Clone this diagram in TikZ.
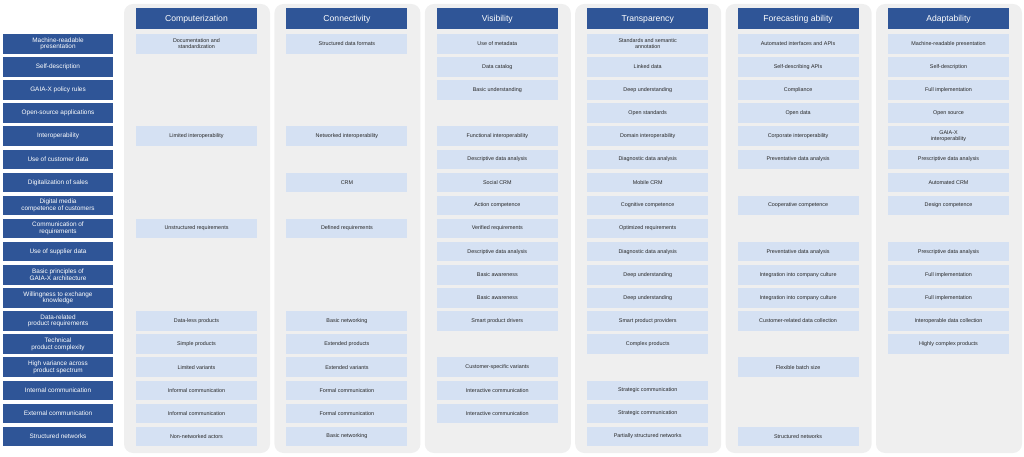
\documentclass[tikz,border=0pt]{standalone}
\usepackage{fontspec}
\setmainfont{Liberation Sans}
\usetikzlibrary{positioning}
\definecolor{darkblue}{HTML}{2F5597}
\definecolor{lightblue}{HTML}{D5E1F3}
\definecolor{panelgray}{HTML}{EFEFEF}
\begin{document}
\begin{tikzpicture}[x=1pt, y=-1pt,
  label/.style={fill=darkblue, text=white, minimum width=110pt, minimum height=19.5pt,
    inner sep=1pt, align=center, font=\fontsize{6.4}{6.6}\selectfont},
  header/.style={fill=darkblue, text=white, minimum width=121pt, minimum height=21pt,
    inner sep=1pt, font=\fontsize{8.6}{9}\selectfont},
  cell/.style={fill=lightblue, text=black!85, minimum width=121pt, minimum height=19.5pt,
    inner sep=1pt, align=center, font=\fontsize{5.4}{5.8}\selectfont},
  panel/.style={fill=panelgray, rounded corners=9pt}]
  \useasboundingbox (0,0) rectangle (1024,457);

  % gray panels and column headers
  \foreach \c/\name in {1/Computerization, 2/Connectivity, 3/Visibility,
      4/Transparency, 5/Forecasting ability, 6/Adaptability} {
    \fill[panel] ({124+150.4*(\c-1)},4) rectangle ++(146,449);
    \node[header] (h\c) at ({196.5+150.4*(\c-1)},19) {\name};
  }

  % row labels
  \foreach \r/\txt in {1/{Machine-readable\\presentation}, 2/Self-description,
      3/GAIA-X policy rules, 4/Open-source applications, 5/Interoperability,
      6/Use of customer data, 7/Digitalization of sales,
      8/{Digital media\\competence of customers}, 9/{Communication of\\requirements},
      10/Use of supplier data, 11/{Basic principles of\\GAIA-X architecture},
      12/{Willingness to exchange\\knowledge}, 13/{Data-related\\product requirements},
      14/{Technical\\product complexity}, 15/{High variance across\\product spectrum},
      16/Internal communication, 17/External communication, 18/Structured networks}
    \node[label] (l\r) at (58,{43.8+23.1*(\r-1)}) {\txt};

  % Computerization
  \foreach \r/\txt in {1/{Documentation and\\standardization}, 5/Limited interoperability,
      9/Unstructured requirements, 13/Data-less products, 14/Simple products,
      15/Limited variants, 16/Informal communication, 17/Informal communication,
      18/Non-networked actors}
    \node[cell] (c1-\r) at (196.5,{43.8+23.1*(\r-1)}) {\txt};

  % Connectivity
  \foreach \r/\txt in {1/Structured data formats, 5/Networked interoperability, 7/CRM,
      9/Defined requirements, 13/Basic networking, 14/Extended products,
      15/Extended variants, 16/Formal communication, 17/Formal communication,
      18/Basic networking}
    \node[cell] (c2-\r) at (346.9,{43.8+23.1*(\r-1)}) {\txt};

  % Visibility
  \foreach \r/\txt in {1/Use of metadata, 2/Data catalog, 3/Basic understanding,
      5/Functional interoperability, 6/Descriptive data analysis, 7/Social CRM,
      8/Action competence, 9/Verified requirements, 10/Descriptive data analysis,
      11/Basic awareness, 12/Basic awareness, 13/Smart product drivers,
      15/Customer-specific variants, 16/Interactive communication,
      17/Interactive communication}
    \node[cell] (c3-\r) at (497.3,{43.8+23.1*(\r-1)}) {\txt};

  % Transparency
  \foreach \r/\txt in {1/{Standards and semantic\\annotation}, 2/Linked data,
      3/Deep understanding, 4/Open standards, 5/Domain interoperability,
      6/Diagnostic data analysis, 7/Mobile CRM, 8/Cognitive competence,
      9/Optimized requirements, 10/Diagnostic data analysis, 11/Deep understanding,
      12/Deep understanding, 13/Smart product providers, 14/Complex products,
      16/Strategic communication, 17/Strategic communication,
      18/Partially structured networks}
    \node[cell] (c4-\r) at (647.7,{43.8+23.1*(\r-1)}) {\txt};

  % Forecasting ability
  \foreach \r/\txt in {1/Automated interfaces and APIs, 2/Self-describing APIs,
      3/Compliance, 4/Open data, 5/Corporate interoperability,
      6/Preventative data analysis, 8/Cooperative competence,
      10/Preventative data analysis, 11/Integration into company culture,
      12/Integration into company culture, 13/Customer-related data collection,
      15/Flexible batch size, 18/Structured networks}
    \node[cell] (c5-\r) at (798.1,{43.8+23.1*(\r-1)}) {\txt};

  % Adaptability
  \foreach \r/\txt in {1/Machine-readable presentation, 2/Self-description,
      3/Full implementation, 4/Open source, 5/{GAIA-X\\interoperability},
      6/Prescriptive data analysis, 7/Automated CRM, 8/Design competence,
      10/Prescriptive data analysis, 11/Full implementation, 12/Full implementation,
      13/Interoperable data collection, 14/Highly complex products}
    \node[cell] (c6-\r) at (948.5,{43.8+23.1*(\r-1)}) {\txt};
\end{tikzpicture}
\end{document}
